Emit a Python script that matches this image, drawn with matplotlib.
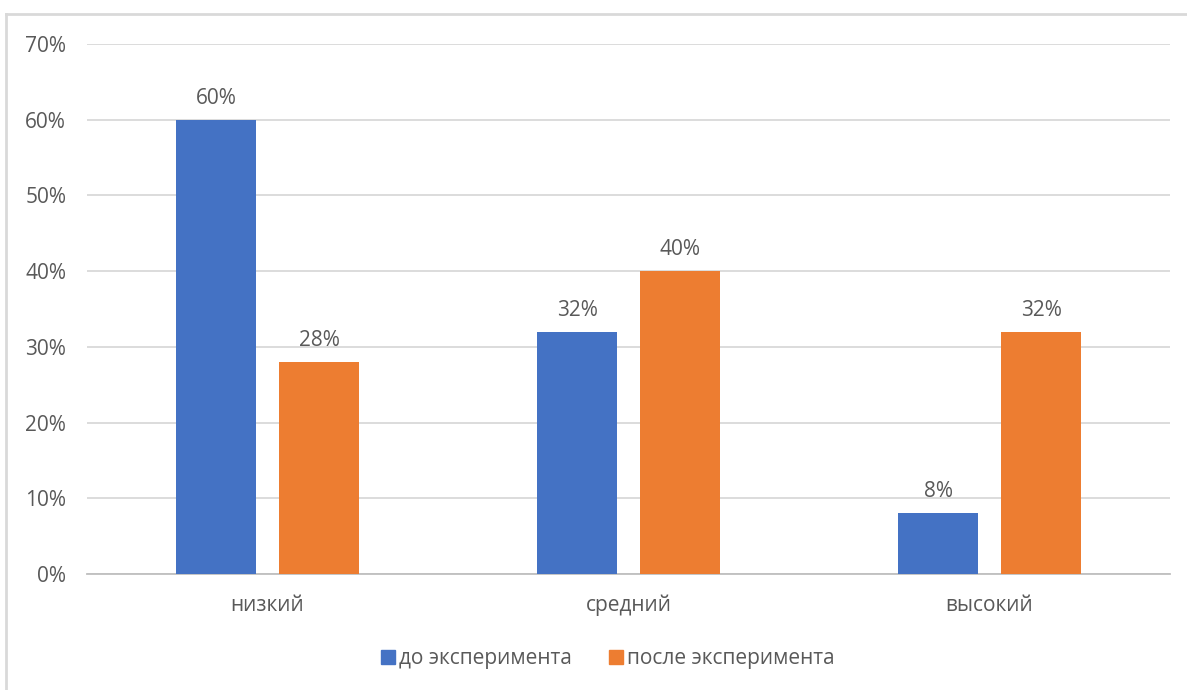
import matplotlib
matplotlib.use('Agg')
from matplotlib import pyplot as plt
from matplotlib.lines import Line2D
import numpy as np

plt.rcParams['font.family'] = ['Open Sans', 'DejaVu Sans']

categories = ['низкий', 'средний', 'высокий']
before = [0.60, 0.32, 0.08]
after = [0.28, 0.40, 0.32]
series_names = ['до эксперимента', 'после эксперимента']
yticks = [0, 0.1, 0.2, 0.3, 0.4, 0.5, 0.6, 0.7]

blue = '#4472C4'
orange = '#ED7D31'
txt = '#595959'
fs = 15

fig = plt.figure(figsize=(11.87, 6.9), dpi=100)
ax = fig.add_axes([0.0733, 0.1681, 0.9124, 0.7681])

x = np.arange(len(categories))
w = 0.224
off = 0.1427
b1 = ax.bar(x - off, before, w, color=blue, zorder=3)
b2 = ax.bar(x + off, after, w, color=orange, zorder=3)

for bars, vals in [(b1, before), (b2, after)]:
    for rect, v in zip(bars, vals):
        ax.annotate('%d%%' % round(v * 100), (rect.get_x() + rect.get_width() / 2, v),
                    xytext=(0, 8), textcoords='offset points', ha='center', va='bottom',
                    fontsize=fs, color=txt)

ax.set_xlim(-0.5, 2.5)
ax.set_ylim(0, 0.7)
ax.set_yticks(yticks)
ax.set_yticklabels(['%d%%' % round(t * 100) for t in yticks])
ax.set_xticks(x)
ax.set_xticklabels(categories)
ax.tick_params(axis='both', length=0, labelsize=fs, colors=txt)
ax.tick_params(axis='y', pad=15)
ax.tick_params(axis='x', pad=15)
ax.grid(axis='y', color='#d9d9d9', linewidth=1.3, zorder=0)
for s in ['top', 'right', 'left']:
    ax.spines[s].set_visible(False)
ax.spines['bottom'].set_color('#bfbfbf')
ax.spines['bottom'].set_linewidth(1.3)

handles = [Line2D([], [], marker='s', linestyle='', markersize=10, color=c) for c in (blue, orange)]
fig.legend(handles, series_names, loc='center', bbox_to_anchor=(0.512, 0.045), ncol=2,
           frameon=False, fontsize=fs, labelcolor=txt, handletextpad=0.15, columnspacing=1.8,
           handlelength=0.7)

# рамка диаграммы (видны только верх и левый край)
fig.add_artist(Line2D([0.005, 1.0], [0.980, 0.980], color='#d9d9d9', linewidth=2, transform=fig.transFigure))
fig.add_artist(Line2D([0.005, 0.005], [0.0, 0.980], color='#d9d9d9', linewidth=2, transform=fig.transFigure))

fig.savefig('out.png', dpi=100)
